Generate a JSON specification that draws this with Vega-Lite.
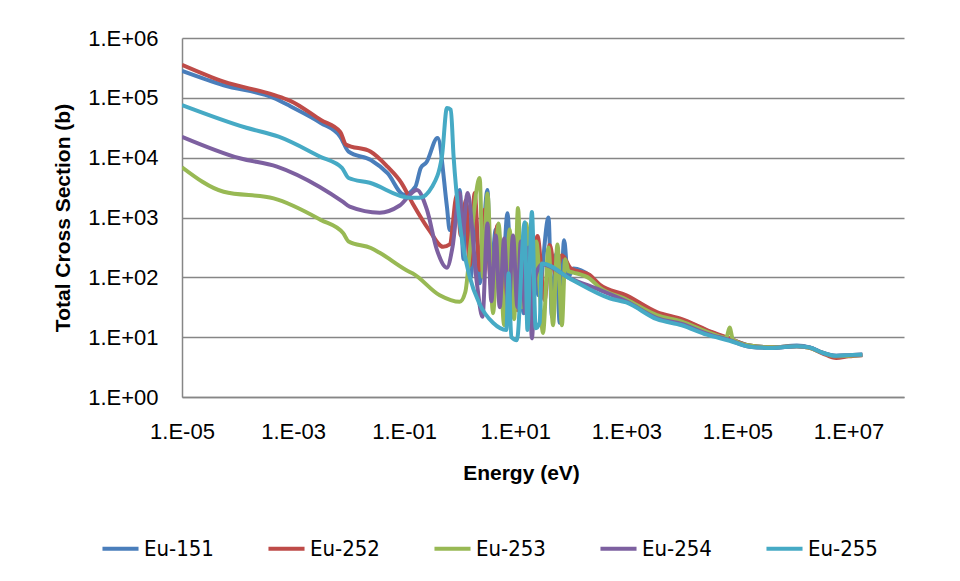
{
  "$schema": "https://vega.github.io/schema/vega-lite/v6.json",
  "width": 722,
  "height": 359,
  "autosize": {"type": "none"},
  "padding": {"left": 182, "top": 38, "right": 56, "bottom": 184},
  "background": "white",
  "config": {
    "view": {"stroke": null},
    "axis": {
      "labelFont": "Liberation Sans",
      "labelFontSize": 22,
      "labelColor": "#000000",
      "titleFont": "Liberation Sans",
      "titleFontSize": 21,
      "titleFontWeight": "bold",
      "titleColor": "#000000",
      "domainColor": "#868686",
      "domainWidth": 1.5,
      "gridColor": "#868686",
      "gridWidth": 1.5,
      "ticks": false,
      "labelPadding": 24
    },
    "legend": {
      "labelFont": "Liberation Sans Narrow, DejaVu Sans Condensed, Liberation Sans",
      "labelFontSize": 22,
      "labelColor": "#000000"
    }
  },
  "data": {
    "values": [
      {"s": "Eu-151", "E": 1e-5, "cs": 281800},
      {"s": "Eu-151", "E": 5.623e-5, "cs": 162200},
      {"s": "Eu-151", "E": 4.467e-4, "cs": 100000},
      {"s": "Eu-151", "E": 8.913e-4, "cs": 72440},
      {"s": "Eu-151", "E": 3.162e-3, "cs": 38020},
      {"s": "Eu-151", "E": 7.079e-3, "cs": 22390},
      {"s": "Eu-151", "E": 1e-2, "cs": 12590},
      {"s": "Eu-151", "E": 2.512e-2, "cs": 9120},
      {"s": "Eu-151", "E": 5.012e-2, "cs": 5495},
      {"s": "Eu-151", "E": 0.1, "cs": 2399},
      {"s": "Eu-151", "E": 0.1585, "cs": 3236},
      {"s": "Eu-151", "E": 0.1995, "cs": 6761},
      {"s": "Eu-151", "E": 0.2512, "cs": 8318},
      {"s": "Eu-151", "E": 0.398, "cs": 21380},
      {"s": "Eu-151", "E": 0.589, "cs": 1514},
      {"s": "Eu-151", "E": 0.661, "cs": 617},
      {"s": "Eu-151", "E": 0.794, "cs": 794},
      {"s": "Eu-151", "E": 1.0, "cs": 2884},
      {"s": "Eu-151", "E": 1.175, "cs": 200},
      {"s": "Eu-151", "E": 1.349, "cs": 1585},
      {"s": "Eu-151", "E": 1.585, "cs": 100},
      {"s": "Eu-151", "E": 1.905, "cs": 1259},
      {"s": "Eu-151", "E": 2.29, "cs": 79.4},
      {"s": "Eu-151", "E": 3.162, "cs": 2884},
      {"s": "Eu-151", "E": 3.63, "cs": 100},
      {"s": "Eu-151", "E": 4.467, "cs": 631},
      {"s": "Eu-151", "E": 5.623, "cs": 39.8},
      {"s": "Eu-151", "E": 7.244, "cs": 1175},
      {"s": "Eu-151", "E": 8.913, "cs": 31.6},
      {"s": "Eu-151", "E": 11.22, "cs": 501},
      {"s": "Eu-151", "E": 14.13, "cs": 25.1},
      {"s": "Eu-151", "E": 19.95, "cs": 562},
      {"s": "Eu-151", "E": 26.3, "cs": 50.1},
      {"s": "Eu-151", "E": 39.8, "cs": 1000},
      {"s": "Eu-151", "E": 45.7, "cs": 21.9},
      {"s": "Eu-151", "E": 55.0, "cs": 251},
      {"s": "Eu-151", "E": 63.1, "cs": 17.4},
      {"s": "Eu-151", "E": 75.9, "cs": 417},
      {"s": "Eu-151", "E": 89.1, "cs": 100},
      {"s": "Eu-151", "E": 112, "cs": 141},
      {"s": "Eu-151", "E": 219, "cs": 107},
      {"s": "Eu-151", "E": 331, "cs": 72.4},
      {"s": "Eu-151", "E": 1000, "cs": 47.9},
      {"s": "Eu-151", "E": 3548, "cs": 25.1},
      {"s": "Eu-151", "E": 10000, "cs": 19.5},
      {"s": "Eu-151", "E": 28180, "cs": 12.9},
      {"s": "Eu-151", "E": 72440, "cs": 9.33},
      {"s": "Eu-151", "E": 166000, "cs": 7.24},
      {"s": "Eu-151", "E": 426600, "cs": 6.76},
      {"s": "Eu-151", "E": 1175000, "cs": 7.24},
      {"s": "Eu-151", "E": 2000000, "cs": 6.76},
      {"s": "Eu-151", "E": 3390000, "cs": 5.5},
      {"s": "Eu-151", "E": 6030000, "cs": 4.79},
      {"s": "Eu-151", "E": 10000000, "cs": 4.9},
      {"s": "Eu-151", "E": 17780000, "cs": 5.01},

      {"s": "Eu-252", "E": 1e-5, "cs": 354800},
      {"s": "Eu-252", "E": 5.623e-5, "cs": 186200},
      {"s": "Eu-252", "E": 4.467e-4, "cs": 112200},
      {"s": "Eu-252", "E": 8.913e-4, "cs": 89130},
      {"s": "Eu-252", "E": 3.162e-3, "cs": 42660},
      {"s": "Eu-252", "E": 7.079e-3, "cs": 26920},
      {"s": "Eu-252", "E": 8.913e-3, "cs": 16600},
      {"s": "Eu-252", "E": 2.512e-2, "cs": 12590},
      {"s": "Eu-252", "E": 5.012e-2, "cs": 7079},
      {"s": "Eu-252", "E": 8.913e-2, "cs": 3802},
      {"s": "Eu-252", "E": 0.1413, "cs": 1738},
      {"s": "Eu-252", "E": 0.2818, "cs": 617},
      {"s": "Eu-252", "E": 0.5012, "cs": 324},
      {"s": "Eu-252", "E": 0.661, "cs": 355},
      {"s": "Eu-252", "E": 0.891, "cs": 2399},
      {"s": "Eu-252", "E": 1.047, "cs": 501},
      {"s": "Eu-252", "E": 1.288, "cs": 1950},
      {"s": "Eu-252", "E": 1.514, "cs": 158},
      {"s": "Eu-252", "E": 1.862, "cs": 2570},
      {"s": "Eu-252", "E": 2.291, "cs": 132},
      {"s": "Eu-252", "E": 2.818, "cs": 1349},
      {"s": "Eu-252", "E": 3.802, "cs": 62},
      {"s": "Eu-252", "E": 4.786, "cs": 741},
      {"s": "Eu-252", "E": 6.457, "cs": 41.7},
      {"s": "Eu-252", "E": 8.71, "cs": 417},
      {"s": "Eu-252", "E": 10.96, "cs": 28.2},
      {"s": "Eu-252", "E": 14.79, "cs": 457},
      {"s": "Eu-252", "E": 19.95, "cs": 62},
      {"s": "Eu-252", "E": 25.12, "cs": 490},
      {"s": "Eu-252", "E": 33.88, "cs": 41.7},
      {"s": "Eu-252", "E": 41.69, "cs": 347},
      {"s": "Eu-252", "E": 53.7, "cs": 110},
      {"s": "Eu-252", "E": 69.18, "cs": 234},
      {"s": "Eu-252", "E": 100, "cs": 141},
      {"s": "Eu-252", "E": 218.8, "cs": 110},
      {"s": "Eu-252", "E": 331, "cs": 75.9},
      {"s": "Eu-252", "E": 1000, "cs": 50.1},
      {"s": "Eu-252", "E": 3548, "cs": 26.3},
      {"s": "Eu-252", "E": 10000, "cs": 19.95},
      {"s": "Eu-252", "E": 28180, "cs": 13.18},
      {"s": "Eu-252", "E": 72440, "cs": 9.55},
      {"s": "Eu-252", "E": 166000, "cs": 7.24},
      {"s": "Eu-252", "E": 426600, "cs": 6.76},
      {"s": "Eu-252", "E": 1175000, "cs": 7.08},
      {"s": "Eu-252", "E": 2000000, "cs": 6.61},
      {"s": "Eu-252", "E": 3390000, "cs": 5.37},
      {"s": "Eu-252", "E": 6030000, "cs": 4.47},
      {"s": "Eu-252", "E": 10000000, "cs": 4.79},
      {"s": "Eu-252", "E": 17780000, "cs": 5.01},

      {"s": "Eu-253", "E": 1e-5, "cs": 6918},
      {"s": "Eu-253", "E": 5.623e-5, "cs": 2692},
      {"s": "Eu-253", "E": 4.467e-4, "cs": 2089},
      {"s": "Eu-253", "E": 3.162e-3, "cs": 912},
      {"s": "Eu-253", "E": 7.943e-3, "cs": 550},
      {"s": "Eu-253", "E": 1e-2, "cs": 398},
      {"s": "Eu-253", "E": 2.512e-2, "cs": 309},
      {"s": "Eu-253", "E": 3.63e-2, "cs": 257},
      {"s": "Eu-253", "E": 0.126, "cs": 123},
      {"s": "Eu-253", "E": 0.141, "cs": 117},
      {"s": "Eu-253", "E": 0.437, "cs": 50.1},
      {"s": "Eu-253", "E": 1.0, "cs": 38.9},
      {"s": "Eu-253", "E": 1.259, "cs": 56.2},
      {"s": "Eu-253", "E": 1.585, "cs": 398},
      {"s": "Eu-253", "E": 2.29, "cs": 4571},
      {"s": "Eu-253", "E": 2.63, "cs": 100},
      {"s": "Eu-253", "E": 3.162, "cs": 2512},
      {"s": "Eu-253", "E": 3.981, "cs": 25.1},
      {"s": "Eu-253", "E": 5.012, "cs": 794},
      {"s": "Eu-253", "E": 6.31, "cs": 15.8},
      {"s": "Eu-253", "E": 7.943, "cs": 631},
      {"s": "Eu-253", "E": 9.55, "cs": 20},
      {"s": "Eu-253", "E": 11.22, "cs": 1445},
      {"s": "Eu-253", "E": 13.18, "cs": 31.6},
      {"s": "Eu-253", "E": 15.85, "cs": 794},
      {"s": "Eu-253", "E": 19.95, "cs": 17.4},
      {"s": "Eu-253", "E": 24.0, "cs": 398},
      {"s": "Eu-253", "E": 31.6, "cs": 11.7},
      {"s": "Eu-253", "E": 39.8, "cs": 316},
      {"s": "Eu-253", "E": 47.9, "cs": 15.8},
      {"s": "Eu-253", "E": 57.5, "cs": 355},
      {"s": "Eu-253", "E": 69.2, "cs": 15.8},
      {"s": "Eu-253", "E": 79.4, "cs": 200},
      {"s": "Eu-253", "E": 91.2, "cs": 126},
      {"s": "Eu-253", "E": 112, "cs": 120},
      {"s": "Eu-253", "E": 219, "cs": 95.5},
      {"s": "Eu-253", "E": 331, "cs": 67.6},
      {"s": "Eu-253", "E": 1000, "cs": 42.7},
      {"s": "Eu-253", "E": 3548, "cs": 23.4},
      {"s": "Eu-253", "E": 10000, "cs": 18.2},
      {"s": "Eu-253", "E": 28180, "cs": 12.3},
      {"s": "Eu-253", "E": 63100, "cs": 9.77},
      {"s": "Eu-253", "E": 72440, "cs": 14.5},
      {"s": "Eu-253", "E": 83180, "cs": 9.12},
      {"s": "Eu-253", "E": 166000, "cs": 7.24},
      {"s": "Eu-253", "E": 426600, "cs": 6.76},
      {"s": "Eu-253", "E": 1175000, "cs": 7.08},
      {"s": "Eu-253", "E": 2000000, "cs": 6.61},
      {"s": "Eu-253", "E": 3390000, "cs": 5.5},
      {"s": "Eu-253", "E": 6030000, "cs": 4.79},
      {"s": "Eu-253", "E": 10000000, "cs": 4.9},
      {"s": "Eu-253", "E": 17780000, "cs": 5.01},

      {"s": "Eu-254", "E": 1e-5, "cs": 22387},
      {"s": "Eu-254", "E": 1.096e-4, "cs": 9772},
      {"s": "Eu-254", "E": 5.129e-4, "cs": 7079},
      {"s": "Eu-254", "E": 3.02e-3, "cs": 3236},
      {"s": "Eu-254", "E": 7.943e-3, "cs": 1820},
      {"s": "Eu-254", "E": 1.047e-2, "cs": 1514},
      {"s": "Eu-254", "E": 3.63e-2, "cs": 1202},
      {"s": "Eu-254", "E": 8.318e-2, "cs": 1585},
      {"s": "Eu-254", "E": 0.17, "cs": 2884},
      {"s": "Eu-254", "E": 0.257, "cs": 1349},
      {"s": "Eu-254", "E": 0.389, "cs": 288},
      {"s": "Eu-254", "E": 0.589, "cs": 145},
      {"s": "Eu-254", "E": 0.741, "cs": 316},
      {"s": "Eu-254", "E": 1.0, "cs": 2570},
      {"s": "Eu-254", "E": 1.122, "cs": 501},
      {"s": "Eu-254", "E": 1.38, "cs": 2570},
      {"s": "Eu-254", "E": 2.042, "cs": 79.4},
      {"s": "Eu-254", "E": 2.57, "cs": 21.9},
      {"s": "Eu-254", "E": 3.162, "cs": 794},
      {"s": "Eu-254", "E": 3.715, "cs": 39.8},
      {"s": "Eu-254", "E": 4.467, "cs": 501},
      {"s": "Eu-254", "E": 5.248, "cs": 31.6},
      {"s": "Eu-254", "E": 6.31, "cs": 447},
      {"s": "Eu-254", "E": 7.586, "cs": 28.2},
      {"s": "Eu-254", "E": 9.12, "cs": 501},
      {"s": "Eu-254", "E": 10.96, "cs": 31.6},
      {"s": "Eu-254", "E": 12.59, "cs": 398},
      {"s": "Eu-254", "E": 15.14, "cs": 25.1},
      {"s": "Eu-254", "E": 17.38, "cs": 316},
      {"s": "Eu-254", "E": 19.95, "cs": 9.55},
      {"s": "Eu-254", "E": 22.9, "cs": 100},
      {"s": "Eu-254", "E": 28.2, "cs": 158},
      {"s": "Eu-254", "E": 30.2, "cs": 166},
      {"s": "Eu-254", "E": 100, "cs": 95.5},
      {"s": "Eu-254", "E": 331, "cs": 61.7},
      {"s": "Eu-254", "E": 1000, "cs": 39.8},
      {"s": "Eu-254", "E": 3548, "cs": 20.9},
      {"s": "Eu-254", "E": 10000, "cs": 16.6},
      {"s": "Eu-254", "E": 28180, "cs": 11.5},
      {"s": "Eu-254", "E": 72440, "cs": 8.91},
      {"s": "Eu-254", "E": 166000, "cs": 6.92},
      {"s": "Eu-254", "E": 426600, "cs": 6.61},
      {"s": "Eu-254", "E": 1175000, "cs": 7.08},
      {"s": "Eu-254", "E": 2000000, "cs": 6.76},
      {"s": "Eu-254", "E": 3390000, "cs": 5.5},
      {"s": "Eu-254", "E": 6030000, "cs": 4.9},
      {"s": "Eu-254", "E": 10000000, "cs": 5.01},
      {"s": "Eu-254", "E": 17780000, "cs": 5.13},

      {"s": "Eu-255", "E": 1e-5, "cs": 75858},
      {"s": "Eu-255", "E": 1.445e-4, "cs": 31623},
      {"s": "Eu-255", "E": 5.5e-4, "cs": 22387},
      {"s": "Eu-255", "E": 3.02e-3, "cs": 10471},
      {"s": "Eu-255", "E": 7.586e-3, "cs": 6761},
      {"s": "Eu-255", "E": 1e-2, "cs": 4571},
      {"s": "Eu-255", "E": 2.4e-2, "cs": 3802},
      {"s": "Eu-255", "E": 0.126, "cs": 2138},
      {"s": "Eu-255", "E": 0.19, "cs": 2138},
      {"s": "Eu-255", "E": 0.316, "cs": 3236},
      {"s": "Eu-255", "E": 0.479, "cs": 10471},
      {"s": "Eu-255", "E": 0.589, "cs": 67608},
      {"s": "Eu-255", "E": 0.692, "cs": 63096},
      {"s": "Eu-255", "E": 0.776, "cs": 10471},
      {"s": "Eu-255", "E": 1.0, "cs": 813},
      {"s": "Eu-255", "E": 1.514, "cs": 102},
      {"s": "Eu-255", "E": 2.29, "cs": 35.5},
      {"s": "Eu-255", "E": 3.981, "cs": 17.4},
      {"s": "Eu-255", "E": 6.918, "cs": 13.2},
      {"s": "Eu-255", "E": 7.586, "cs": 117},
      {"s": "Eu-255", "E": 8.51, "cs": 10},
      {"s": "Eu-255", "E": 10.7, "cs": 8.91},
      {"s": "Eu-255", "E": 14.8, "cs": 832},
      {"s": "Eu-255", "E": 16.6, "cs": 13.2},
      {"s": "Eu-255", "E": 19.95, "cs": 1230},
      {"s": "Eu-255", "E": 23.4, "cs": 14.1},
      {"s": "Eu-255", "E": 27.5, "cs": 17.4},
      {"s": "Eu-255", "E": 30.2, "cs": 170},
      {"s": "Eu-255", "E": 100, "cs": 93.3},
      {"s": "Eu-255", "E": 501, "cs": 44.7},
      {"s": "Eu-255", "E": 1000, "cs": 38},
      {"s": "Eu-255", "E": 3548, "cs": 20},
      {"s": "Eu-255", "E": 10000, "cs": 15.8},
      {"s": "Eu-255", "E": 28180, "cs": 11},
      {"s": "Eu-255", "E": 72440, "cs": 8.71},
      {"s": "Eu-255", "E": 166000, "cs": 6.92},
      {"s": "Eu-255", "E": 426600, "cs": 6.61},
      {"s": "Eu-255", "E": 1175000, "cs": 7.08},
      {"s": "Eu-255", "E": 2000000, "cs": 6.76},
      {"s": "Eu-255", "E": 3390000, "cs": 5.5},
      {"s": "Eu-255", "E": 6030000, "cs": 4.9},
      {"s": "Eu-255", "E": 10000000, "cs": 5.01},
      {"s": "Eu-255", "E": 17780000, "cs": 5.13}
    ]
  },
  "mark": {"type": "line", "strokeWidth": 4, "interpolate": "monotone", "clip": true},
  "encoding": {
    "x": {
      "field": "E",
      "type": "quantitative",
      "scale": {"type": "log", "domain": [1e-5, 1e8], "nice": false},
      "axis": {
        "title": "Energy (eV)",
        "grid": false,
        "values": [1e-5, 1e-3, 1e-1, 10, 1000, 100000, 10000000],
        "labelExpr": "'1.E' + (datum.value >= 1 ? '+' : '-') + format(abs(round(log(datum.value) / LN10)), '02d')",
        "titlePadding": 20,
        "titleX": 339,
        "labelFlush": false
      }
    },
    "y": {
      "field": "cs",
      "type": "quantitative",
      "scale": {"type": "log", "domain": [1, 1000000], "nice": false},
      "axis": {
        "title": "Total Cross Section (b)",
        "grid": true,
        "values": [1, 10, 100, 1000, 10000, 100000, 1000000],
        "labelExpr": "'1.E' + (datum.value >= 1 ? '+' : '-') + format(abs(round(log(datum.value) / LN10)), '02d')",
        "titlePadding": 14,
        "labelFlush": false
      }
    },
    "color": {
      "field": "s",
      "type": "nominal",
      "scale": {
        "domain": ["Eu-151", "Eu-252", "Eu-253", "Eu-254", "Eu-255"],
        "range": ["#4A7EBB", "#BE4B48", "#98B954", "#7D60A0", "#46AAC5"]
      },
      "legend": {
        "title": null,
        "orient": "none",
        "direction": "horizontal",
        "legendX": -82,
        "legendY": 490,
        "symbolType": "stroke",
        "symbolSize": 1300,
        "symbolStrokeWidth": 4,
        "labelOffset": 3,
        "columnPadding": 46
      }
    }
  }
}
